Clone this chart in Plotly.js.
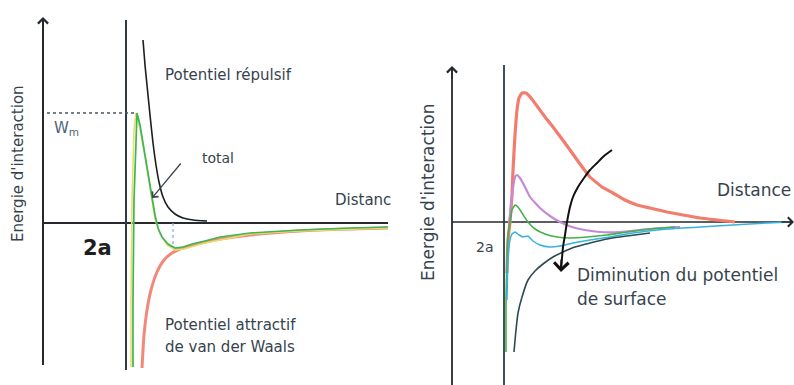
<!DOCTYPE html>
<html>
<head>
<meta charset="utf-8">
<script src="https://cdn.plot.ly/plotly-3.0.1.min.js"></script>
<style>html,body{margin:0;padding:0;background:#fff}#chart{width:794px;height:385px}</style>
</head>
<body>
<div id="chart"></div>
<script>
// ---------- Left panel data (arbitrary schematic units) ----------
const leftContact = 8.3;            // the "2a" vertical line
const leftWm = 11.0;                // height of the energy barrier
const leftPeakX = 9.4;
const leftMinX = 13.0, leftMinY = -2.4;

const leftRepX = [10.0, 10.2, 10.4, 10.7, 11.0, 11.3, 11.6, 12.0, 12.5, 13.2, 14.0, 15.0, 16.4];
const leftRepY = [18.3, 15.8, 13.8, 10.8, 8.0, 5.8, 4.1, 2.6, 1.6, 0.9, 0.5, 0.3, 0.2];

const leftAttX = [9.9, 10.1, 10.4, 10.8, 11.4, 12.1, 12.9, 13.7, 14.7, 16.2, 17.7, 20.7, 25.7, 30.7, 34.5];
const leftAttY = [-14.5, -11.2, -8.7, -6.7, -4.9, -3.7, -3.0, -2.6, -2.3, -1.9, -1.6, -1.2, -0.8, -0.6, -0.5];

const leftTotX = [9.0, 9.0, 9.1, 9.3, 9.4, 9.7, 10.1, 10.5, 10.9, 11.2, 11.5, 11.9, 12.5, 13.2, 14.0, 14.9, 16.2, 17.7, 20.7, 25.7, 30.7, 34.5];
const leftTotY = [-14.4, -7.7, 2.3, 9.3, 11.0, 9.8, 7.3, 4.8, 2.6, 0.8, -0.5, -1.4, -2.1, -2.5, -2.4, -2.1, -1.8, -1.4, -1.0, -0.7, -0.5, -0.4];

const leftYellowX = [8.8, 8.8, 8.9, 9.1, 9.3, 9.7, 10.2, 10.7, 11.2, 11.7, 12.4, 13.2, 14.1, 16.2, 20.7, 25.7, 30.7, 34.5];
const leftYellowY = [-14.4, -7.7, 2.3, 9.3, 11.0, 9.4, 6.6, 3.6, 0.4, -1.1, -2.2, -2.7, -2.6, -2.0, -1.1, -0.8, -0.6, -0.5];

// ---------- Right panel data ----------
const rightContact = 5.2;

const rRedX = [5.5, 5.6, 5.8, 6.0, 6.1, 6.3, 6.5, 6.7, 7.0, 7.4, 7.9, 8.5, 9.3, 10.1, 11.0, 11.8, 12.8, 13.8, 15.0, 16.1, 17.3, 18.5, 19.8, 21.5, 23.1, 24.8, 26.5, 28.3];
const rRedY = [-5.1, -1.8, 0.0, 2.7, 5.2, 8.7, 11.2, 12.4, 12.9, 12.9, 12.4, 11.6, 10.5, 9.5, 8.3, 7.2, 5.8, 4.5, 3.5, 2.9, 2.2, 1.7, 1.4, 1.0, 0.7, 0.4, 0.2, 0.0];

const rPurpleX = [5.7, 5.9, 6.1, 6.3, 6.5, 6.8, 7.3, 7.8, 8.8, 9.8, 10.8, 12.0, 13.3, 14.8, 16.8, 18.8, 20.8, 22.8];
const rPurpleY = [-0.3, 1.7, 3.4, 4.5, 4.7, 4.4, 3.5, 2.5, 1.4, 0.6, 0.0, -0.5, -0.8, -1.0, -1.0, -0.8, -0.6, -0.5];

const rGreenX = [5.4, 5.4, 5.5, 5.6, 5.8, 6.0, 6.3, 6.6, 7.0, 7.6, 8.3, 9.3, 10.5, 11.8, 13.5, 15.5, 17.5, 19.8, 22.3];
const rGreenY = [-13.0, -7.8, -3.8, -1.3, 0.0, 1.2, 1.7, 1.5, 0.9, 0.0, -0.7, -1.2, -1.5, -1.6, -1.5, -1.3, -1.0, -0.7, -0.5];

const rCyanX = [5.5, 5.6, 5.8, 6.0, 6.3, 6.7, 7.1, 7.6, 8.1, 8.8, 9.8, 10.8, 12.1, 13.8, 15.8, 18.1, 21.5, 24.8, 28.1, 31.5, 33.8];
const rCyanY = [-7.8, -3.8, -1.8, -1.2, -1.0, -1.3, -1.5, -1.4, -1.9, -2.3, -2.5, -2.4, -2.1, -1.8, -1.5, -1.1, -0.7, -0.5, -0.3, -0.1, 0.0];

const rDarkX = [6.2, 6.4, 6.6, 7.0, 7.6, 8.3, 9.1, 10.1, 11.1, 12.3, 13.8, 15.5, 17.5, 19.8];
const rDarkY = [-13.0, -10.8, -9.1, -7.5, -5.8, -4.9, -4.2, -3.5, -3.0, -2.5, -2.1, -1.7, -1.4, -1.1];

const rArrowX = [16.0, 15.2, 14.5, 13.8, 13.2, 12.6, 12.1, 11.8, 11.5, 11.3, 11.1, 11.0, 10.9];
const rArrowY = [7.2, 6.6, 5.9, 5.2, 4.4, 3.5, 2.5, 1.5, 0.0, -1.3, -2.5, -3.6, -4.6];

// ---------- Text ----------
const yTitle = "Energie d'interaction";
const leftLabels = {rep: "Potentiel répulsif", att1: "Potentiel attractif", att2: "de van der Waals", total: "total", dist: "Distanc", wm: "W<sub>m</sub>", twoA: "2a"};
const rightLabels = {dist: "Distance", twoA: "2a", dim1: "Diminution du potentiel", dim2: "de surface"};

const FONT = "DejaVu Sans, Arial, sans-serif";
const TXT = "#36434e";
const AX = "#262a2e";

function line(xa, x, y, color, width, extra) {
  return Object.assign({type: 'scatter', mode: 'lines', x: x, y: y, xaxis: xa === 1 ? 'x' : 'x2', yaxis: xa === 1 ? 'y' : 'y2',
    line: {color: color, width: width}, hoverinfo: 'skip', showlegend: false}, extra || {});
}
function sp(color, width, sm) { return {line: {color: color, width: width, shape: 'spline', smoothing: sm}}; }

const traces = [
  // left axes
  line(1, [0, 0], [-14.2, 20.3], AX, 2),
  line(1, [0, 34.5], [0, 0], AX, 2.2),
  line(1, [leftContact, leftContact], [20.3, -14.7], "#2e3a44", 2),
  // left dotted guides
  line(1, [0.4, leftPeakX], [leftWm, leftWm], "#555", 1.3, {line: {color: "#4a5560", width: 1.3, dash: 'dot'}}),
  line(1, [leftMinX, leftMinX], [0, leftMinY], "#7ab", 1.2, {line: {color: "#7aaccc", width: 1.2, dash: 'dot'}}),
  // left curves
  line(1, leftAttX, leftAttY, "#f3887a", 3, sp("#f3887a", 3, 0.6)),
  line(1, leftYellowX, leftYellowY, "#e6df6a", 1.6),
  line(1, leftTotX, leftTotY, "#3fb557", 1.7),
  line(1, leftRepX, leftRepY, "#1b1f22", 1.6, sp("#1b1f22", 1.6, 0.6)),

  // right axes
  line(2, [0, 0], [15.5, -16.3], AX, 1.8),
  line(2, [0, 34.1], [0, 0], AX, 1.6),
  line(2, [rightContact, rightContact], [15.7, -16.3], "#2e3a44", 1.8),
  // right curves
  line(2, rRedX, rRedY, "#f27d6c", 3.2, sp("#f27d6c", 3.2, 0.35)),
  line(2, rPurpleX, rPurpleY, "#c58ad6", 2.2, sp("#c58ad6", 2.2, 0.4)),
  line(2, rGreenX, rGreenY, "#45b04a", 1.6, sp("#45b04a", 1.6, 0.4)),
  line(2, rCyanX, rCyanY, "#35b3df", 1.5, sp("#35b3df", 1.5, 0.4)),
  line(2, rDarkX, rDarkY, "#2c4a52", 1.6, sp("#2c4a52", 1.6, 0.6)),
  line(2, rArrowX, rArrowY, "#111", 2, sp("#111", 2, 0.7))
];

function txt(xa, x, y, text, size, extra) {
  return Object.assign({xref: xa === 1 ? 'x' : 'x2', yref: xa === 1 ? 'y' : 'y2', x: x, y: y, text: text, showarrow: false,
    xanchor: 'left', yanchor: 'middle', font: {family: FONT, size: size, color: TXT}}, extra || {});
}

const annotations = [
  txt(1, 12.0, 14.8, leftLabels.rep, 15),
  txt(1, 0.9, 9.5, leftLabels.wm, 15, {font: {family: FONT, size: 15, color: "#4d6478"}}),
  txt(1, 15.7, 6.5, leftLabels.total, 14),
  txt(1, 29.0, 2.3, leftLabels.dist, 15),
  txt(1, 5.4, -2.5, leftLabels.twoA, 21, {xanchor: 'center', font: {family: FONT, size: 21, color: "#1e1e1e", weight: 'bold'}}),
  txt(1, 12.0, -10.2, leftLabels.att1, 15),
  txt(1, 12.0, -12.4, leftLabels.att2, 15),
  txt(1, -2.5, 5.9, yTitle, 15, {xanchor: 'center', textangle: -90}),
  // "total" pointer
  {xref: 'x', yref: 'y', axref: 'x', ayref: 'y', x: 10.9, y: 2.5, ax: 13.9, ay: 6.1, showarrow: true,
   arrowhead: 4, arrowsize: 1.2, arrowwidth: 1.3, arrowcolor: "#3a4650", text: ''},
  // left y-axis caret
  {xref: 'x', yref: 'y', x: 0, y: 20.6, ax: 0, ay: 14, showarrow: true, arrowhead: 4, arrowsize: 1.3, arrowwidth: 1.5, arrowcolor: AX, text: ''},

  txt(2, 26.3, 3.2, rightLabels.dist, 17),
  txt(2, 3.3, -2.5, rightLabels.twoA, 14, {xanchor: 'center'}),
  txt(2, 12.3, -5.3, rightLabels.dim1, 17),
  txt(2, 12.3, -7.7, rightLabels.dim2, 17),
  txt(2, -2.4, 2.9, yTitle, 17, {xanchor: 'center', textangle: -90}),
  // right axes carets
  {xref: 'x2', yref: 'y2', x: 0, y: 15.6, ax: 0, ay: 14, showarrow: true, arrowhead: 4, arrowsize: 1.3, arrowwidth: 1.5, arrowcolor: AX, text: ''},
  {xref: 'x2', yref: 'y2', x: 34.2, y: 0, ax: -14, ay: 0, showarrow: true, arrowhead: 4, arrowsize: 1.3, arrowwidth: 1.4, arrowcolor: AX, text: ''},
  // curved arrow head
  {xref: 'x2', yref: 'y2', axref: 'x2', ayref: 'y2', x: 10.9, y: -5.0, ax: 10.95, ay: -3.6, showarrow: true,
   arrowhead: 4, arrowsize: 1.4, arrowwidth: 2, arrowcolor: "#111", text: ''}
];

const hidden = {visible: false, fixedrange: true};
const layout = {
  width: 794, height: 385,
  margin: {l: 0, r: 0, t: 0, b: 0},
  paper_bgcolor: '#fff', plot_bgcolor: 'rgba(0,0,0,0)',
  showlegend: false,
  xaxis: Object.assign({domain: [0, 0.5], range: [-4.3, 35.4]}, hidden),
  yaxis: Object.assign({domain: [0, 1], range: [-16.2, 22.3]}, hidden),
  xaxis2: Object.assign({domain: [0.5, 1], range: [-5.5, 34.2], anchor: 'y2'}, hidden),
  yaxis2: Object.assign({domain: [0, 1], range: [-16.3, 22.2], anchor: 'x2'}, hidden),
  annotations: annotations
};

Plotly.newPlot('chart', traces, layout, {staticPlot: true, displayModeBar: false});
</script>
</body>
</html>
